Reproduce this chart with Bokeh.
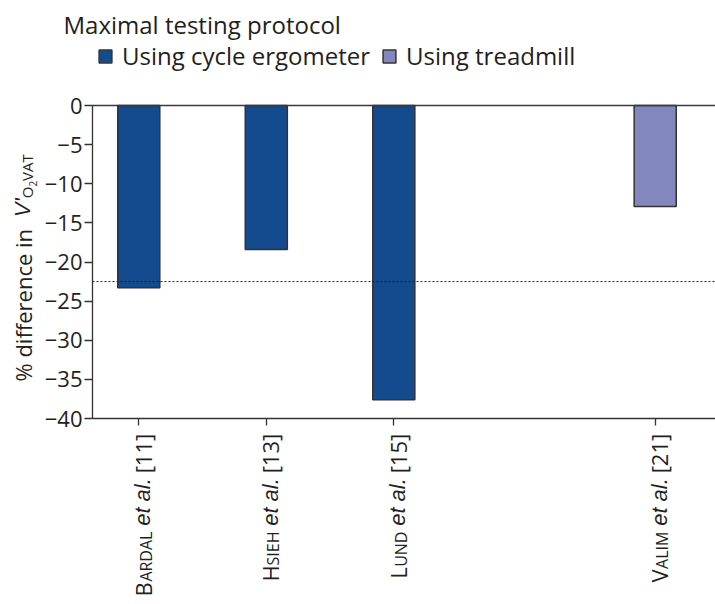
import math
from bokeh.plotting import figure
from bokeh.models import (ColumnDataSource, FixedTicker, Label, Legend,
                          LegendItem, Range1d, LinearAxis)
from bokeh.embed import file_html
from bokeh.resources import INLINE

# ---------------- data ----------------
studies = ["Bardal", "Hsieh", "Lund", "Valim"]
refs = ["[11]", "[13]", "[15]", "[21]"]
protocol = ["cycle", "cycle", "cycle", "treadmill"]
pct_diff = [-23.3, -18.4, -37.6, -12.9]
mean_line = -22.5
y_ticks = [0, -5, -10, -15, -20, -25, -30, -35, -40]
legend_title = "Maximal testing protocol"
legend_labels = {"cycle": "Using cycle ergometer", "treadmill": "Using treadmill"}
slots = [0, 1, 2, 4.05]          # slot positions (gap before the treadmill study)

# ---------------- style / layout ----------------
FONT = "Open Sans"
FONT_IT = "Liberation Sans"
TXT = "#231f20"
AX = "#333333"
COLORS = {"cycle": "#134b8e", "treadmill": "#8288bd"}
W, H = 715, 604
PAD_L, PAD_T, PAD_B = 92, 105, 186      # plot area inside the canvas (px)
X_LO, X_HI = -0.363, 4.523              # visible category span
Y_LO, Y_HI = -40, 0
BASE_FIX = 0.45                          # baseline correction (fraction of font size)

xs_per_px = (X_HI - X_LO) / (W - PAD_L)
ys_per_px = (Y_HI - Y_LO) / (H - PAD_T - PAD_B)
x_range = Range1d(X_LO - PAD_L * xs_per_px, X_HI)
y_range = Range1d(Y_LO - PAD_B * ys_per_px, Y_HI + PAD_T * ys_per_px)

p = figure(width=W, height=H, output_backend="svg", toolbar_location=None,
           x_range=x_range, y_range=y_range, min_border=0)
p.grid.visible = False
p.outline_line_color = None

renderers = {}
for key in ["cycle", "treadmill"]:
    idx = [i for i, pr in enumerate(protocol) if pr == key]
    src = ColumnDataSource(dict(x=[slots[i] for i in idx],
                                y=[pct_diff[i] for i in idx]))
    renderers[key] = p.vbar(x="x", top=0, bottom="y", width=0.33, source=src,
                            fill_color=COLORS[key], line_color=AX,
                            line_width=1.5)

# dotted reference line across the plot area
p.line(x=[X_LO, X_HI], y=[mean_line, mean_line], line_color="#222222",
       line_width=1, line_dash="2 2")

# axes drawn at fixed locations
ya = p.yaxis[0]
ya.fixed_location = X_LO
ya.bounds = (Y_LO, Y_HI)
ya.ticker = FixedTicker(ticks=y_ticks)
ya.major_label_overrides = {t: ("0" if t == 0 else "\u2212%d" % abs(t)) for t in y_ticks}
ya.major_label_text_font = FONT
ya.major_label_text_font_size = "22px"
ya.major_label_text_color = TXT
ya.axis_line_color = AX
ya.axis_line_width = 1.3
ya.major_tick_line_color = AX
ya.major_tick_line_width = 1.3
ya.major_tick_out = 8
ya.major_tick_in = 0
ya.minor_tick_line_color = None
ya.major_label_standoff = 2

xa = p.xaxis[0]
xa.fixed_location = Y_LO
xa.bounds = (X_LO, X_HI)
xa.ticker = FixedTicker(ticks=slots)
xa.major_label_overrides = {s: "" for s in slots}
xa.axis_line_color = AX
xa.axis_line_width = 1.3
xa.major_tick_line_color = AX
xa.major_tick_line_width = 1.3
xa.major_tick_out = 7
xa.major_tick_in = 0
xa.minor_tick_line_color = None

# zero line (top of plot area)
top_axis = LinearAxis(fixed_location=Y_HI, bounds=(X_LO, X_HI),
                      ticker=FixedTicker(ticks=[]), axis_line_color="#3a3a3a",
                      axis_line_width=1.5, major_tick_line_color=None,
                      minor_tick_line_color=None)
p.add_layout(top_axis, "above")

# approximate advance widths (units per em 2048)
REG = {' ': 532, 'A': 1296, 'B': 1327, 'D': 1493, 'E': 1139, 'H': 1511, 'I': 571,
       'L': 1124, 'M': 1849, 'N': 1604, 'R': 1300, 'S': 1098, 'U': 1479, 'V': 1186,
       'T': 1112, 'O': 1594, '[': 627, ']': 627, '.': 545, '%': 1720, 'd': 1255,
       'i': 518, 'f': 694, 'e': 1149, 'r': 836, 'n': 1257, 'c': 975}
ITA = {'e': 1139, 't': 569, ' ': 569, 'a': 1139, 'l': 455, '.': 569, 'V': 1366,
       "'": 391}


def tw(s, size, table=REG):
    return sum(table.get(c, 1171) for c in s) / 2048.0 * size


def lab(text, x, y, xo, yo, size, style="normal", align="left", angle=math.pi / 2):
    fix = BASE_FIX * size
    if angle == 0:
        yo += fix
    else:
        xo -= fix
    p.add_layout(Label(x=x, y=y, x_offset=xo, y_offset=yo, text=text,
                       angle=angle, angle_units="rad", text_align=align,
                       text_baseline="alphabetic",
                       text_font=FONT_IT if style == "italic" else FONT,
                       text_font_size=f"{size}px", text_font_style=style,
                       text_color=TXT))


# category labels (small caps name, italic et al., reference)
END = 15.3
for name, ref, xs in zip(studies, refs, slots):
    s = 0.0
    lab(ref, xs, Y_LO, 14, -(END + s), 22, align="right")
    s += tw(ref, 22) + tw(" ", 22)
    lab("et al.", xs, Y_LO, 14, -(END + s), 22, style="italic", align="right")
    s += tw("et al.", 22, ITA) + tw(" ", 22)
    rest = name[1:].upper()
    lab(rest, xs, Y_LO, 14, -(END + s), 16, align="right")
    s += tw(rest, 16)
    lab(name[0], xs, Y_LO, 14, -(END + s), 22, align="right")

# y-axis title (pixel positions relative to plot-area corner)
frame_bottom = H - PAD_B
yb = 381.0
bx = 32 - PAD_L
part1 = "% difference  in "
lab(part1, X_LO, Y_LO, bx, frame_bottom - yb, 22)
yb -= tw(part1, 22)
lab("V'", X_LO, Y_LO, bx, frame_bottom - yb, 22, style="italic")
yb -= tw("V'", 22, ITA)
lab("O", X_LO, Y_LO, bx + 1, frame_bottom - yb, 15)
yb -= tw("O", 15)
lab("2", X_LO, Y_LO, bx + 5, frame_bottom - yb, 10)
yb -= tw("2", 10)
lab("VAT", X_LO, Y_LO, bx + 1, frame_bottom - yb, 15)

# legend title
lab(legend_title, X_LO, Y_HI, 63 - PAD_L, PAD_T - 35, 24, angle=0)

# legend
legend = Legend(items=[LegendItem(label=legend_labels[k], renderers=[renderers[k]])
                       for k in ["cycle", "treadmill"]],
                orientation="horizontal", location=(97, H - 72),
                glyph_width=16, glyph_height=16, label_standoff=9, spacing=11,
                label_text_font=FONT, label_text_font_size="24px",
                label_text_color=TXT, padding=0, margin=0,
                border_line_color=None, background_fill_alpha=0)
p.add_layout(legend)

open("out.html", "w").write(file_html(p, INLINE))
